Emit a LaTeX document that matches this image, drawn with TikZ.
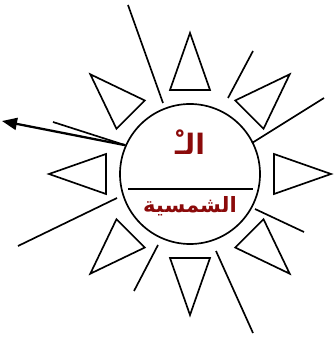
\documentclass[tikz,border=0pt]{standalone}
\usepackage{fontspec}
\newfontfamily\arabicfont[Script=Arabic]{DejaVu Sans}
\TeXXeTstate=1
\usetikzlibrary{arrows.meta}
\definecolor{sunred}{RGB}{139,10,10}
\begin{document}
\begin{tikzpicture}[scale=1.0,
  ray/.style={line width=0.95pt},
  word/.style={text=sunred, font=\arabicfont\bfseries}]
\useasboundingbox (-3.80,-3.28) rectangle (2.88,3.48);
\node[circle, draw, line width=0.95pt, minimum size=2.8cm, inner sep=0pt] (sun) at (0,0) {};
\draw[ray] (-1.24,-0.30) -- (1.26,-0.30);
\node[word] (article) at (0,0.64) {\fontsize{16}{18}\selectfont\beginR الـْ\endR};
\node[word] (sunword) at (0,-0.64) {\fontsize{12}{14}\selectfont\beginR الشمسية\endR};

\draw[ray] (103.4:1.727) -- (90:2.82) -- (76.6:1.727) -- cycle;
\draw[ray] (58.4:1.727) -- (45:2.82) -- (31.6:1.727) -- cycle;
\draw[ray] (13.4:1.727) -- (0:2.82) -- (-13.4:1.727) -- cycle;
\draw[ray] (-31.6:1.727) -- (-45:2.82) -- (-58.4:1.727) -- cycle;
\draw[ray] (-76.6:1.727) -- (-90:2.82) -- (-103.4:1.727) -- cycle;
\draw[ray] (-121.6:1.727) -- (-135:2.82) -- (-148.4:1.727) -- cycle;
\draw[ray] (-166.6:1.727) -- (180:2.82) -- (166.6:1.727) -- cycle;
\draw[ray] (148.4:1.727) -- (135:2.82) -- (121.6:1.727) -- cycle;

\draw[ray] (-0.54,1.42) -- (-1.24,3.38);
\draw[ray] (0.76,1.52) -- (1.26,2.46);
\draw[ray] (1.24,0.62) -- (2.68,1.52);
\draw[ray] (1.30,-0.70) -- (2.28,-1.16);
\draw[ray] (0.52,-1.54) -- (1.26,-3.18);
\draw[ray] (-0.64,-1.42) -- (-1.12,-2.34);
\draw[ray] (-1.46,-0.48) -- (-3.44,-1.44);
\draw[ray] (sun.156) -- (-2.74,1.04);

\coordinate (tip) at (-3.76,1.06);
\draw[line width=1.3pt, -{Triangle[length=0.3cm,width=0.24cm]}] (sun.156) -- (tip);
\end{tikzpicture}
\end{document}
